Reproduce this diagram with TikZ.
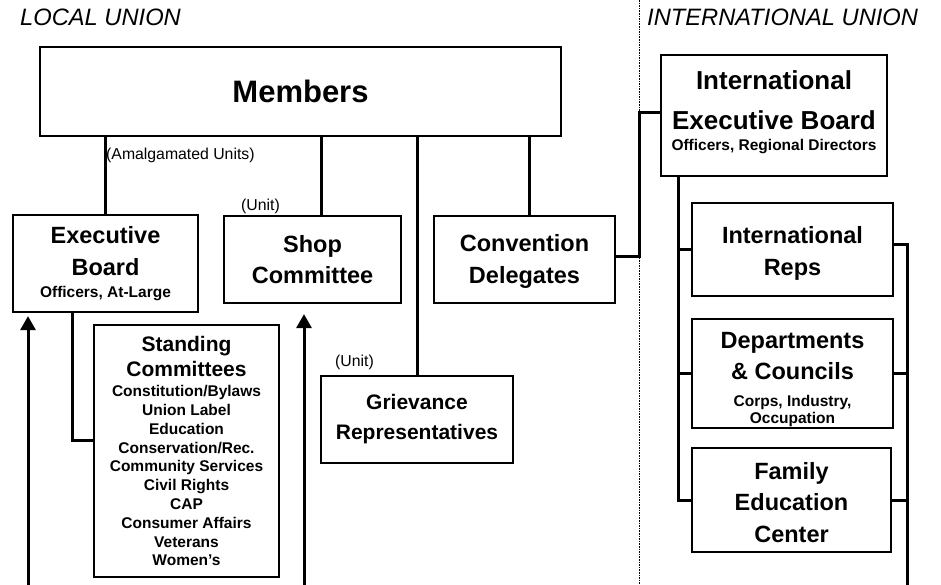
\documentclass[tikz,border=0pt]{standalone}
\usepackage{fontspec}
\setmainfont{Liberation Sans}
\usetikzlibrary{arrows.meta}
\newcommand{\subf}{\fontsize{15.5}{18}\selectfont}
\AtBeginDocument{\lineskiplimit=-50pt\relax}
\begin{document}
\begin{tikzpicture}[x=1pt,y=-1pt,
  box/.style={draw,line width=2.2pt,inner sep=0pt,align=center,font=\bfseries\fontsize{23.5}{31.5}\selectfont},
  conn/.style={line width=3pt},
  arr/.style={line width=3pt,-{Triangle[width=15pt,length=14pt]}},
  lbl/.style={inner sep=0pt,anchor=west,font=\fontsize{15.8}{18}\selectfont},
  head/.style={inner sep=0pt,anchor=west,font=\itshape\fontsize{23.7}{28}\selectfont}]
\useasboundingbox (0,0) rectangle (941,585);
\fill[white] (0,0) rectangle (941,585);
% divider
\draw[line width=1pt,dash pattern=on 1.6pt off 1pt] (639,0) -- (639,585);
% headings
\node[head] (lu) at (20,17) {LOCAL UNION};
\node[head] (iu) at (647,17) {INTERNATIONAL UNION};
% boxes
\node[box,minimum width=521pt,minimum height=89pt,font=\bfseries\fontsize{31}{36}\selectfont] (members) at (300.5,91.5) {Members};
\node[box,minimum width=185pt,minimum height=97pt] (exec) at (105.5,263.5) {Executive\\Board\\[-9.5pt]{\subf Officers, At-Large}};
\node[box,minimum width=177pt,minimum height=87pt] (shop) at (312.5,259.5) {Shop\\Committee};
\node[box,minimum width=181pt,minimum height=87pt] (conv) at (524.5,259.5) {\rule{0pt}{21pt}Convention\\Delegates};
\node[box,minimum width=185pt,minimum height=252pt,font=\bfseries\fontsize{15.5}{18.8}\selectfont] (standing) at (186.5,451)
  {{\fontsize{21}{25}\selectfont Standing}\\[6.2pt]{\fontsize{21}{25}\selectfont Committees}\\[1.6pt]Constitution/Bylaws\\Union Label\\Education\\Conservation/Rec.\\Community Services\\Civil Rights\\CAP\\Consumer Affairs\\Veterans\\Women’s};
\node[box,minimum width=192pt,minimum height=87pt,font=\bfseries\fontsize{21}{30}\selectfont] (griev) at (417,419.5) {Grievance\\Representatives};
\node[box,minimum width=226pt,minimum height=121pt,font=\bfseries\fontsize{26}{40}\selectfont] (ieb) at (774,115.5) {International\\Executive Board\\[-18.8pt]{\subf Officers, Regional Directors\rule[-9.5pt]{0pt}{1pt}}};
\node[box,minimum width=201pt,minimum height=93pt] (reps) at (792.5,249.5) {\rule{0pt}{25pt}International\\Reps};
\node[box,minimum width=201pt,minimum height=109pt] (dept) at (792.5,373.5) {\rule{0pt}{28pt}Departments\\\& Councils\\[-4.5pt]{\subf Corps, Industry,}\\[-15pt]{\subf Occupation}};
\node[box,minimum width=199pt,minimum height=104pt] (family) at (791.5,500) {\rule{0pt}{22pt}Family\\Education\\Center};
% labels
\node[lbl] (amal) at (106,155) {(Amalgamated Units)};
\node[lbl] (unit1) at (241,206.5) {(Unit)};
\node[lbl] (unit2) at (335,362) {(Unit)};
% coordinates
\coordinate (shx) at (321,0);
\coordinate (cvx) at (529,0);
\coordinate (sx) at (72,0);
\coordinate (sy) at (0,440);
\coordinate (jx) at (639,113);
\coordinate (bl) at (678,0);
\coordinate (brb) at (907,585);
\coordinate (a1) at (28,585);
\coordinate (a2) at (304,585);
% connectors from members
\draw[conn] (members.south -| exec.north) -- (exec.north);
\draw[conn] (members.south -| shx) -- (shop.north -| shx);
\draw[conn] (members.south -| griev.north) -- (griev.north);
\draw[conn] (members.south -| cvx) -- (conv.north -| cvx);
% exec to standing
\draw[conn] (exec.south -| sx) -- (sx |- sy) -- (sy -| standing.west);
% convention to IEB
\draw[conn] ([yshift=3.5pt]conv.east) -| (jx) -- (jx -| ieb.west);
% IEB left bus
\draw[conn] (ieb.south -| bl) -- (bl |- family.west) -- (family.west);
\draw[conn] (bl |- reps.west) -- (reps.west);
\draw[conn] (bl |- dept.west) -- (dept.west);
% right bus
\draw[conn] ([yshift=5pt]reps.east) -| (brb);
\draw[conn] (dept.east) -- (dept.east -| brb);
\draw[conn] (family.east) -- (family.east -| brb);
% arrows
\draw[arr,shorten >=3pt] (a1) -- (a1 |- exec.south);
\draw[arr,shorten >=10pt] (a2) -- (a2 |- shop.south);
\end{tikzpicture}
\end{document}
